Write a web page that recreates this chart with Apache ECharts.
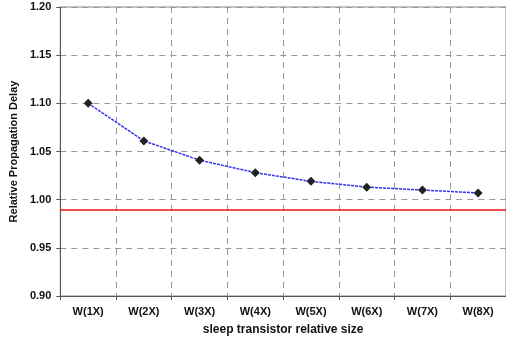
<!DOCTYPE html>
<html><head><meta charset="utf-8">
<script src="https://cdn.jsdelivr.net/npm/echarts@6/dist/echarts.min.js"></script>
<style>html,body{margin:0;padding:0;background:#fff}#c{width:506px;height:341px}</style>
</head><body><div id="c"></div>
<script>
const categories = ['W(1X)','W(2X)','W(3X)','W(4X)','W(5X)','W(6X)','W(7X)','W(8X)'];
const delayValues = [1.100, 1.061, 1.041, 1.028, 1.019, 1.013, 1.010, 1.007];
const referenceLevel = 0.993;
const yTicks = { min: 0.90, max: 1.20, interval: 0.05 };

const chart = echarts.init(document.getElementById('c'), null, {renderer: 'canvas'});
const font = 'Liberation Sans, Arial, sans-serif';
chart.setOption({
  animation: false,
  backgroundColor: '#fff',
  grid: { left: 59, right: -3, top: 7, bottom: 45, show: true, borderColor: '#888', borderWidth: 1 },
  xAxis: {
    type: 'category', data: categories, boundaryGap: true,
    name: 'sleep transistor relative size', nameLocation: 'middle', nameGap: 28,
    nameTextStyle: { fontFamily: font, fontWeight: 'bold', fontSize: 12, color: '#111' },
    axisLine: { lineStyle: { color: '#555', width: 1 } },
    axisTick: { show: true, length: 4, lineStyle: { color: '#555' } },
    axisLabel: { fontFamily: font, fontWeight: 'bold', fontSize: 11, color: '#111', margin: 10 },
    splitLine: { show: true, lineStyle: { color: '#999', type: [6, 5], width: 1 } }
  },
  yAxis: {
    type: 'value', min: yTicks.min, max: yTicks.max, interval: yTicks.interval,
    name: 'Relative Propagation Delay', nameLocation: 'middle', nameGap: 38,
    nameTextStyle: { fontFamily: font, fontWeight: 'bold', fontSize: 11, color: '#111' },
    axisLine: { show: true, lineStyle: { color: '#555', width: 1 } },
    axisTick: { show: true, length: 4, lineStyle: { color: '#555' } },
    axisLabel: { fontFamily: font, fontWeight: 'bold', fontSize: 11, color: '#111', margin: 9,
      formatter: v => v.toFixed(2) },
    splitLine: { show: true, lineStyle: { color: '#999', type: [6, 5], width: 1 } }
  },
  series: [{
    type: 'line', data: delayValues,
    symbol: 'diamond', symbolSize: 9,
    itemStyle: { color: '#222' },
    lineStyle: { color: '#3333ee', width: 1.5, type: [3, 1] },
    markLine: {
      silent: true, symbol: 'none', label: { show: false },
      lineStyle: { color: '#ee1111', width: 1.5, type: 'solid' },
      data: [{ yAxis: referenceLevel }]
    }
  }]
});
</script></body></html>
